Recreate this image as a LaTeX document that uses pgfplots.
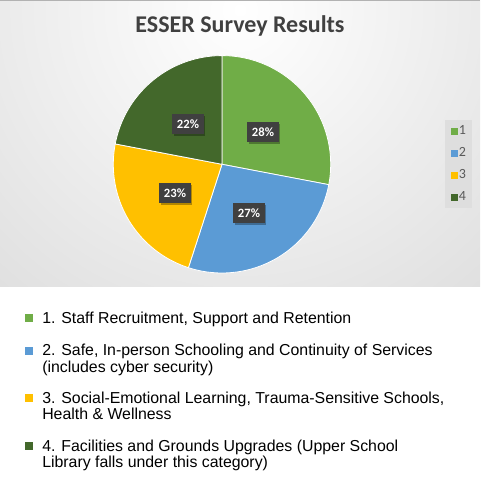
\documentclass[border=0pt]{standalone}
\usepackage{pgfplots}
\pgfplotsset{compat=1.18}
\usepackage{pgfplotstable}
\usepackage{fontspec}
\setmainfont{Carlito}
\newfontfamily\arial{Liberation Sans}
\usetikzlibrary{shadows}
\definecolor{cA}{HTML}{70AD47}
\definecolor{cB}{HTML}{5B9BD5}
\definecolor{cC}{HTML}{FFC000}
\definecolor{cD}{HTML}{43682B}
\definecolor{labbg}{HTML}{404040}
\definecolor{titlec}{HTML}{404040}
\definecolor{legtext}{HTML}{595959}
\definecolor{legbg}{HTML}{DEDEDE}
\definecolor{bgout}{HTML}{C2C2C2}

\pgfplotstableread{
slice value
1 28
2 27
3 23
4 22
}\piedata
\pgfplotstablegetelem{0}{value}\of\piedata \let\vA\pgfplotsretval
\pgfplotstablegetelem{1}{value}\of\piedata \let\vB\pgfplotsretval
\pgfplotstablegetelem{2}{value}\of\piedata \let\vC\pgfplotsretval
\pgfplotstablegetelem{3}{value}\of\piedata \let\vD\pgfplotsretval
\pgfmathsetmacro{\aA}{90}
\pgfmathsetmacro{\aB}{\aA-3.6*\vA}
\pgfmathsetmacro{\aC}{\aB-3.6*\vB}
\pgfmathsetmacro{\aD}{\aC-3.6*\vC}
\pgfmathsetmacro{\aE}{\aD-3.6*\vD}

\newcommand{\slice}[3]{%
  \addplot[fill=#1, draw=white, line width=0.6pt, line join=round,
    samples at={-1,0,1,...,60,61}, variable=\t]
  ({(\t<0 || \t>60) ? 222 : 222+108.7*cos(#2+(#3-#2)*\t/60)},
   {(\t<0 || \t>60) ? 331.7 : 331.7+108.7*sin(#2+(#3-#2)*\t/60)});
}

\begin{document}
\begin{tikzpicture}[x=0.75pt, y=0.75pt]
\useasboundingbox (0,0) rectangle (480,496);
% background panel
\begin{scope}
  \clip (0,209) rectangle (480,496);
  \shade[inner color=white, outer color=bgout] (240,486) circle (720);
\end{scope}
\draw[color=black!30, line width=0.75pt] (0,495.6) -- (480,495.6);

\begin{axis}[
  at={(0pt,0pt)}, anchor=south west,
  width=360pt, height=372pt, scale only axis,
  xmin=0, xmax=480, ymin=0, ymax=496,
  axis lines=none, clip=false,
  legend style={at={(axis cs:445,376)}, anchor=north west,
    fill=legbg, draw=none, inner xsep=4pt, inner ysep=0pt,
    row sep=0pt, font=\fontsize{10.5}{11}\selectfont, text=legtext,
    nodes={inner sep=0.75pt, minimum height=16.5pt}},
  legend cell align=left,
  legend image code/.code={\fill[#1, draw=none] (0pt,-2.7pt) rectangle (5.4pt,2.7pt);},
]
\slice{cA}{\aA}{\aB}
\slice{cB}{\aB}{\aC}
\slice{cC}{\aC}{\aD}
\slice{cD}{\aD}{\aE}
\addplot[forget plot, draw=none, mark=none, point meta=explicit symbolic,
  nodes near coords={\pgfplotspointmeta\%},
  every node near coord/.append style={anchor=center, fill=labbg, text=white,
    font=\bfseries\fontsize{9.5}{10}\selectfont, minimum width=23.5pt, minimum height=15pt,
    inner sep=1pt, drop shadow={shadow xshift=1.2pt, shadow yshift=-1.2pt, fill=black, opacity=0.3}}]
  coordinates {(263,364) [28] (249,283) [27] (175,303) [23] (188,372) [22]};
\legend{1,2,3,4}
\end{axis}

% title
\node[anchor=base, text=titlec, font=\bfseries\fontsize{18}{20}\selectfont] at (240,463) {ESSER Survey Results};

% bottom legend
\fill[cA] (25,174) rectangle (32.5,181.5);
\fill[cB] (25,141) rectangle (32.5,148.5);
\fill[cC] (25,94) rectangle (32.5,101.5);
\fill[cD] (25,46) rectangle (32.5,53.5);
\begin{scope}[every node/.style={anchor=base west, inner sep=0pt, font=\arial\fontsize{11.9}{12}\selectfont}]
\node at (42,172) {1. Staff Recruitment, Support and Retention};
\node at (42,140) {2. Safe, In-person Schooling and Continuity of Services};
\node at (42,123) {(includes cyber security)};
\node at (42,92) {3. Social-Emotional Learning, Trauma-Sensitive Schools,};
\node at (42,76) {Health \& Wellness};
\node at (42,44) {4. Facilities and Grounds Upgrades (Upper School};
\node at (42,28) {Library falls under this category)};
\end{scope}
\end{tikzpicture}
\end{document}
